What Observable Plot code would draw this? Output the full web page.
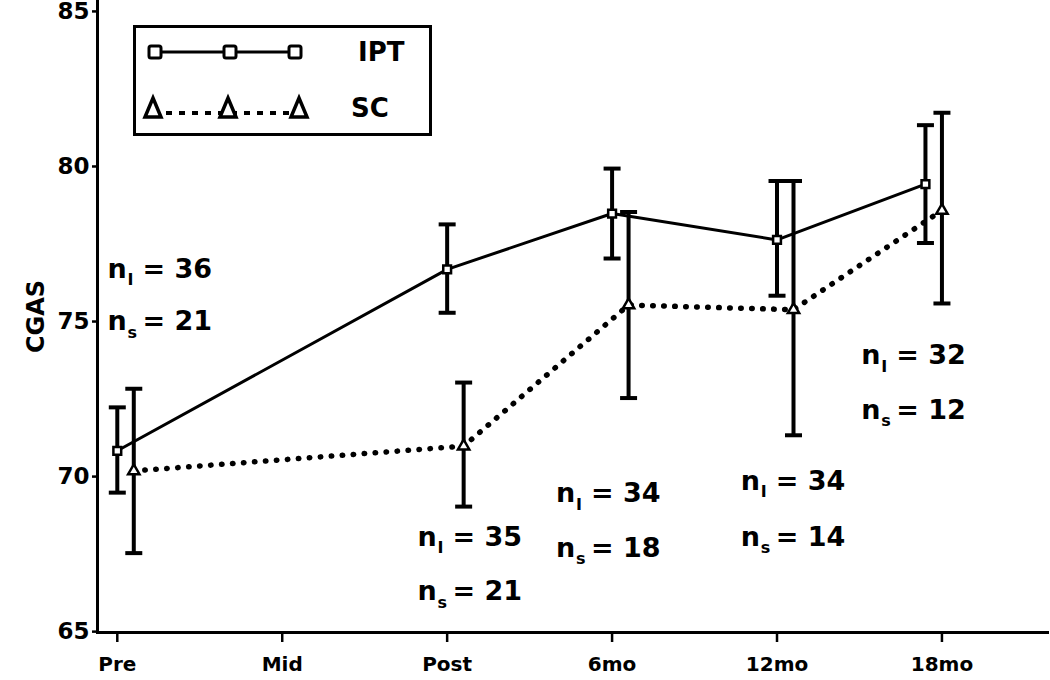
<!DOCTYPE html>
<html>
<head>
<meta charset="utf-8">
<script src="https://cdn.jsdelivr.net/npm/d3@7"></script>
<script src="https://cdn.jsdelivr.net/npm/@observablehq/plot@0.6"></script>
<style>
  html, body { margin: 0; padding: 0; background: #fff; }
  #wrap { position: relative; width: 1050px; height: 680px; font-family: "DejaVu Sans", sans-serif; }
  #legend { position: absolute; left: 133px; top: 25px; }
  .chart g[aria-label="y-axis tick label"] { font-size: 23px; font-weight: bold; }
  .chart g[aria-label="x-axis tick label"] { font-size: 20px; font-weight: bold; }
</style>
</head>
<body>
<div id="wrap"></div>
<script>
// ---- data ----
const timeLabels = ["Pre", "Mid", "Post", "6mo", "12mo", "18mo"];
const timeIndex = [0, 1, 2, 3, 4, 5];

// IPT group (jittered time position, mean, upper, lower)
const iptTime  = [0.0, 2.0, 3.0, 4.0, 4.9];
const iptMean  = [70.8, 76.65, 78.45, 77.6, 79.4];
const iptUpper = [72.2, 78.1, 79.9, 79.5, 81.3];
const iptLower = [69.45, 75.25, 77.0, 75.8, 77.5];

// SC group
const scTime  = [0.1, 2.1, 3.1, 4.1, 5.0];
const scMean  = [70.15, 70.95, 75.5, 75.35, 78.55];
const scUpper = [72.8, 73.0, 78.5, 79.5, 81.7];
const scLower = [67.5, 69.0, 72.5, 71.3, 75.55];

// sample-size annotations
const annTime = [-0.06, 1.82, 2.66, 3.78, 4.51];
const annNI   = [36, 35, 34, 34, 32];
const annNS   = [21, 21, 18, 14, 12];
const annYI   = [76.6, 67.95, 69.35, 69.75, 73.8];
const annYS   = [74.9, 66.2, 67.6, 67.95, 72.05];

const yTicks = [65, 70, 75, 80, 85];
const yTitle = "CGAS";

// ---- build tables ----
const ipt = iptTime.map((t, i) => ({t, m: iptMean[i], hi: iptUpper[i], lo: iptLower[i]}));
const sc  = scTime.map((t, i) => ({t, m: scMean[i], hi: scUpper[i], lo: scLower[i]}));
const ann = [];
annTime.forEach((t, i) => {
  ann.push({t, y: annYI[i], sub: "I", txt: "= " + annNI[i]});
  ann.push({t, y: annYS[i], sub: "s", txt: "= " + annNS[i]});
});

const capSymbol = { draw(ctx, size) { const h = Math.sqrt(size / Math.PI); ctx.moveTo(-h, 0); ctx.lineTo(h, 0); } };
const font = "'DejaVu Sans', sans-serif";

const plot = Plot.plot({
  className: "chart",
  width: 1050,
  height: 680,
  marginLeft: 97,
  marginRight: 3,
  marginTop: 0,
  marginBottom: 48,
  style: { fontFamily: font, background: "#fff", color: "#000" },
  x: { type: "linear", domain: [-0.12, 5.64] },
  y: { domain: [64.94, 85.32] },
  marks: [
    Plot.frame({ anchor: "left", strokeWidth: 3 }),
    Plot.frame({ anchor: "bottom", strokeWidth: 3 }),
    Plot.axisY({ ticks: yTicks, tickSize: 5, tickPadding: 3, strokeWidth: 2.5, label: null, tickFormat: d => String(d), dy: 1 }),
    Plot.axisX({ ticks: timeIndex, tickSize: 10, tickPadding: 14, strokeWidth: 2.5, tickFormat: d => timeLabels[d], label: null }),
    Plot.text([yTitle], { frameAnchor: "left", textAnchor: "middle", text: d => d, rotate: -90, dx: -61, fontSize: 24, fontWeight: "bold" }),
    // lines
    Plot.line(ipt, { x: "t", y: "m", stroke: "#000", strokeWidth: 3 }),
    Plot.line(sc, { x: "t", y: "m", stroke: "#000", strokeWidth: 5.5, strokeDasharray: "0.5 10.5", strokeLinecap: "round" }),
    // error bars
    Plot.ruleX(ipt, { x: "t", y1: "lo", y2: "hi", stroke: "#000", strokeWidth: 4 }),
    Plot.ruleX(sc, { x: "t", y1: "lo", y2: "hi", stroke: "#000", strokeWidth: 4 }),
    Plot.dot(ipt, { x: "t", y: "hi", symbol: capSymbol, r: 8.5, stroke: "#000", strokeWidth: 4, fill: "none" }),
    Plot.dot(ipt, { x: "t", y: "lo", symbol: capSymbol, r: 8.5, stroke: "#000", strokeWidth: 4, fill: "none" }),
    Plot.dot(sc, { x: "t", y: "hi", symbol: capSymbol, r: 8.5, stroke: "#000", strokeWidth: 4, fill: "none" }),
    Plot.dot(sc, { x: "t", y: "lo", symbol: capSymbol, r: 8.5, stroke: "#000", strokeWidth: 4, fill: "none" }),
    // markers
    Plot.dot(ipt, { x: "t", y: "m", symbol: "square", r: 4.4, fill: "#fff", stroke: "#000", strokeWidth: 2.5 }),
    Plot.dot(sc, { x: "t", y: "m", symbol: "triangle", r: 4.2, fill: "#fff", stroke: "#000", strokeWidth: 2.5 }),
    // annotations (n with subscript)
    Plot.text(ann, { x: "t", y: "y", text: () => "n", textAnchor: "start", fontSize: 27, fontWeight: "bold", dy: -2 }),
    Plot.text(ann, { x: "t", y: "y", text: "sub", textAnchor: "start", fontSize: 16, fontWeight: "bold", dx: 20, dy: 9 }),
    Plot.text(ann, { x: "t", y: "y", text: "txt", textAnchor: "start", fontSize: 27, fontWeight: "bold", dx: 35, dy: -2 })
  ]
});

const wrap = document.getElementById("wrap");
wrap.appendChild(plot);

// ---- legend ----
const lg = d3.select(wrap).append("svg").attr("id", "legend").attr("width", 300).attr("height", 112);
lg.append("rect").attr("x", 1.5).attr("y", 1.5).attr("width", 296).attr("height", 108)
  .attr("fill", "none").attr("stroke", "#000").attr("stroke-width", 3);
const items = [
  { name: "IPT", y: 27, dash: null, sym: "square", xs: [22, 97, 162], tx: 225 },
  { name: "SC",  y: 83, dash: "6 7", sym: "triangle", xs: [20, 95, 166], tx: 218 }
];
items.forEach(it => {
  const ln = lg.append("line").attr("x1", it.xs[0]).attr("x2", it.xs[2]).attr("y1", it.y + (it.dash ? 5 : 0)).attr("y2", it.y + (it.dash ? 5 : 0))
    .attr("stroke", "#000").attr("stroke-width", it.dash ? 4 : 3);
  if (it.dash) ln.attr("stroke-dasharray", it.dash);
  it.xs.forEach(x => {
    if (it.sym === "square") {
      lg.append("rect").attr("x", x - 6).attr("y", it.y - 6).attr("width", 12).attr("height", 12).attr("rx", 2)
        .attr("fill", "#fff").attr("stroke", "#000").attr("stroke-width", 3);
    } else {
      lg.append("path").attr("d", `M${x},${it.y - 10}L${x + 8},${it.y + 9}L${x - 8},${it.y + 9}Z`)
        .attr("fill", "#fff").attr("stroke", "#000").attr("stroke-width", 3.5).attr("stroke-linejoin", "miter");
    }
  });
  lg.append("text").attr("x", it.tx).attr("y", it.y).attr("dy", "0.36em").text(it.name)
    .attr("font-family", font).attr("font-weight", "bold").attr("font-size", 26);
});
</script>
</body>
</html>
